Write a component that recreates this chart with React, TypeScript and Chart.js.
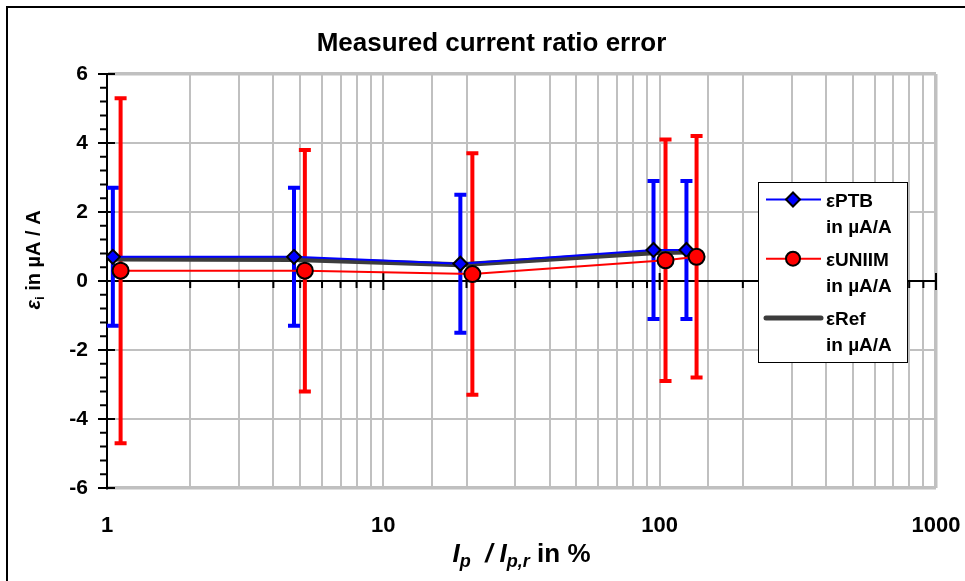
import React, { useEffect, useRef } from 'react';
import { Chart, registerables } from 'chart.js';

Chart.register(...registerables);

const FONT = "'Liberation Sans', Arial, Helvetica, sans-serif";

// ---------- data ----------
const chartTitle = 'Measured current ratio error';
const xTickValues = [1, 10, 100, 1000];
const xMin = 1;
const xMax = 1000;
const yMin = -6;
const yMax = 6;
const yStep = 2;
const yMinorStep = 0.4;

const ptbX = [1.05, 4.75, 19, 95, 125];
const ptbY = [0.7, 0.7, 0.5, 0.9, 0.9];
const ptbU = [2, 2, 2, 2, 2];

const uniimX = [1.12, 5.2, 21, 105, 136];
const uniimY = [0.3, 0.3, 0.2, 0.6, 0.7];
const uniimU = [5, 3.5, 3.5, 3.5, 3.5];

const refX = [1.05, 4.75, 19, 95, 125];
const refY = [0.64, 0.62, 0.47, 0.82, 0.84];

const legendNames = ['εPTB', 'εUNIIM', 'εRef'];
const legendUnit = 'in µA/A';

// ---------- styles ----------
const BLUE = '#0000ff';
const RED = '#ff0000';
const REF = '#3c3c3c';
const GRID = '#c0c0c0';

const toPts = (xs: number[], ys: number[]) => xs.map((x, i) => ({ x, y: ys[i] }));

function drawDiamond(ctx: CanvasRenderingContext2D, x: number, y: number, r: number) {
  ctx.beginPath();
  ctx.moveTo(x - r, y);
  ctx.lineTo(x, y - r);
  ctx.lineTo(x + r, y);
  ctx.lineTo(x, y + r);
  ctx.closePath();
  ctx.fillStyle = BLUE;
  ctx.fill();
  ctx.lineWidth = 2;
  ctx.strokeStyle = '#000';
  ctx.stroke();
}

function drawCircle(ctx: CanvasRenderingContext2D, x: number, y: number, r: number) {
  ctx.beginPath();
  ctx.arc(x, y, r, 0, Math.PI * 2);
  ctx.fillStyle = RED;
  ctx.fill();
  ctx.lineWidth = 2;
  ctx.strokeStyle = '#000';
  ctx.stroke();
}

type Piece = { t: string; font: string; dy?: number };

function drawPieces(ctx: CanvasRenderingContext2D, pieces: Piece[], cx: number, baseline: number) {
  let total = 0;
  for (const p of pieces) {
    ctx.font = p.font;
    total += ctx.measureText(p.t).width;
  }
  let x = cx - total / 2;
  ctx.textBaseline = 'alphabetic';
  ctx.textAlign = 'left';
  for (const p of pieces) {
    ctx.font = p.font;
    ctx.fillText(p.t, x, baseline + (p.dy || 0));
    x += ctx.measureText(p.t).width;
  }
}

const extrasPlugin = {
  id: 'extras',
  beforeDatasetsDraw(chart: any) {
    const { ctx, chartArea } = chart;
    const xs = chart.scales.x;
    const ys = chart.scales.y;
    const y0 = ys.getPixelForValue(0);
    ctx.save();
    // zero axis line with log ticks
    ctx.strokeStyle = '#000';
    ctx.lineWidth = 2;
    ctx.beginPath();
    ctx.moveTo(chartArea.left, y0);
    ctx.lineTo(chartArea.right, y0);
    for (let e = 0; e <= 3; e++) {
      for (let m = 1; m <= 9; m++) {
        const v = m * Math.pow(10, e);
        if (v > xMax) break;
        const px = xs.getPixelForValue(v);
        if (m === 1) {
          ctx.moveTo(px, y0 - 8);
          ctx.lineTo(px, y0 + 9);
        } else {
          ctx.moveTo(px, y0);
          ctx.lineTo(px, y0 + 7);
        }
      }
    }
    // y axis ticks
    const nMinor = Math.round((yMax - yMin) / yMinorStep);
    const perMajor = Math.round(yStep / yMinorStep);
    for (let i = 0; i <= nMinor; i++) {
      const v = yMin + i * yMinorStep;
      const py = ys.getPixelForValue(v);
      if (i % perMajor === 0) {
        ctx.moveTo(chartArea.left - 9, py);
        ctx.lineTo(chartArea.left + 8, py);
      } else {
        ctx.moveTo(chartArea.left - 7, py);
        ctx.lineTo(chartArea.left, py);
      }
    }
    ctx.stroke();

    // error bars
    const bars = (xv: number[], yv: number[], uv: number[], color: string) => {
      ctx.strokeStyle = color;
      ctx.lineWidth = 4;
      ctx.lineCap = 'butt';
      ctx.beginPath();
      xv.forEach((xx, i) => {
        const px = xs.getPixelForValue(xx);
        const top = ys.getPixelForValue(yv[i] + uv[i]);
        const bot = ys.getPixelForValue(yv[i] - uv[i]);
        ctx.moveTo(px, top);
        ctx.lineTo(px, bot);
        ctx.moveTo(px - 6, top);
        ctx.lineTo(px + 6, top);
        ctx.moveTo(px - 6, bot);
        ctx.lineTo(px + 6, bot);
      });
      ctx.stroke();
    };
    bars(ptbX, ptbY, ptbU, BLUE);
    bars(uniimX, uniimY, uniimU, RED);
    ctx.restore();
  },
  afterDraw(chart: any) {
    const { ctx, chartArea } = chart;
    ctx.save();
    // outer frame
    ctx.strokeStyle = '#000';
    ctx.lineWidth = 2;
    ctx.beginPath();
    ctx.moveTo(7, chart.height + 5);
    ctx.lineTo(7, 7);
    ctx.lineTo(chart.width + 5, 7);
    ctx.stroke();

    // legend
    const L = chartArea.right - 178;
    const T = chartArea.top + 108;
    const W = 149;
    const H = 180;
    ctx.fillStyle = '#fff';
    ctx.fillRect(L, T, W, H);
    ctx.strokeStyle = '#000';
    ctx.lineWidth = 1;
    ctx.strokeRect(L + 0.5, T + 0.5, W, H);
    ctx.textAlign = 'left';
    ctx.textBaseline = 'alphabetic';
    for (let k = 0; k < 3; k++) {
      const sy = T + 17.5 + k * 59.2;
      ctx.beginPath();
      if (k === 2) {
        ctx.strokeStyle = REF;
        ctx.lineWidth = 5;
        ctx.lineCap = 'round';
      } else {
        ctx.strokeStyle = k === 0 ? BLUE : RED;
        ctx.lineWidth = 2;
        ctx.lineCap = 'butt';
      }
      ctx.moveTo(L + 8, sy);
      ctx.lineTo(L + 63, sy);
      ctx.stroke();
      if (k === 0) drawDiamond(ctx, L + 35, sy, 7);
      if (k === 1) drawCircle(ctx, L + 35, sy, 7);
      ctx.fillStyle = '#000';
      ctx.font = `bold 19px ${FONT}`;
      ctx.fillText(legendNames[k], L + 68, sy + 7.5);
      ctx.fillText(legendUnit, L + 68, sy + 33);
    }

    // x axis title
    ctx.fillStyle = '#000';
    const cx = (chartArea.left + chartArea.right) / 2;
    drawPieces(
      ctx,
      [
        { t: 'I', font: `italic bold 26px ${FONT}` },
        { t: 'p', font: `italic bold 18px ${FONT}`, dy: 5 },
        { t: '  / ', font: `italic bold 26px ${FONT}` },
        { t: 'I', font: `italic bold 26px ${FONT}` },
        { t: 'p,r', font: `italic bold 18px ${FONT}`, dy: 5 },
        { t: ' in %', font: `bold 26px ${FONT}` },
      ],
      cx,
      561.5
    );

    // y axis title
    ctx.save();
    ctx.translate(40, 260);
    ctx.rotate(-Math.PI / 2);
    drawPieces(
      ctx,
      [
        { t: 'ε', font: `italic bold 20px ${FONT}` },
        { t: 'i', font: `bold 13px ${FONT}`, dy: 4 },
        { t: ' in µA / A', font: `bold 20px ${FONT}` },
      ],
      0,
      0
    );
    ctx.restore();
    ctx.restore();
  },
};

export default function App() {
  const canvasRef = useRef<HTMLCanvasElement>(null);
  useEffect(() => {
    const canvas = canvasRef.current;
    if (!canvas) return;
    const chart = new Chart(canvas, {
      type: 'line',
      data: {
        datasets: [
          {
            label: 'εUNIIM in µA/A',
            data: toPts(uniimX, uniimY),
            borderColor: RED,
            backgroundColor: RED,
            borderWidth: 2,
            pointStyle: 'circle',
            pointRadius: 8,
            pointBorderColor: '#000',
            pointBackgroundColor: RED,
            pointBorderWidth: 2,
            tension: 0,
          },
          {
            label: 'εPTB in µA/A',
            data: toPts(ptbX, ptbY),
            borderColor: BLUE,
            backgroundColor: BLUE,
            borderWidth: 2,
            pointStyle: 'rectRot',
            pointRadius: 7,
            pointBorderColor: '#000',
            pointBackgroundColor: BLUE,
            pointBorderWidth: 2,
            tension: 0,
          },
          {
            label: 'εRef in µA/A',
            data: toPts(refX, refY),
            borderColor: REF,
            backgroundColor: REF,
            borderWidth: 5,
            pointRadius: 0,
            tension: 0,
          },
        ],
      },
      options: {
        responsive: false,
        maintainAspectRatio: false,
        animation: false,
        devicePixelRatio: 1,
        layout: { padding: { left: 18, right: 0, top: 0, bottom: 0 } },
        plugins: {
          legend: { display: false },
          tooltip: { enabled: false },
          title: {
            display: true,
            text: chartTitle,
            color: '#000',
            font: { family: FONT, size: 26, weight: 'bold' },
            padding: { top: 28, bottom: 14.8 },
          },
        },
        scales: {
          x: {
            type: 'logarithmic',
            min: xMin,
            max: xMax,
            afterFit: (s: any) => {
              s.height = 93;
              s.paddingLeft = 0;
              s.paddingRight = 0;
            },
            border: { display: false },
            grid: {
              drawTicks: false,
              color: (c: any) => (c.tick && c.tick.value === xMin ? 'rgba(0,0,0,0)' : GRID),
              lineWidth: (c: any) => (c.tick && c.tick.value === xMax ? 3.5 : 2),
            },
            ticks: {
              autoSkip: false,
              maxRotation: 0,
              minRotation: 0,
              padding: 25,
              color: '#000',
              font: { family: FONT, size: 22, weight: 'bold' },
              callback: (v: any) => (xTickValues.includes(Number(v)) ? String(v) : ''),
            },
          },
          y: {
            type: 'linear',
            position: 'left',
            min: yMin,
            max: yMax,
            afterFit: (s: any) => {
              s.width = 89;
            },
            border: { display: true, color: '#000', width: 2 },
            grid: {
              drawTicks: false,
              color: GRID,
              lineWidth: (c: any) =>
                c.tick && (c.tick.value === yMin || c.tick.value === yMax) ? 3.5 : 2,
            },
            ticks: {
              stepSize: yStep,
              padding: 19,
              color: '#000',
              font: { family: FONT, size: 21, weight: 'bold' },
            },
          },
          yR: {
            type: 'linear',
            position: 'right',
            display: true,
            afterFit: (s: any) => {
              s.width = 29;
            },
            border: { display: false },
            grid: { display: false, drawTicks: false },
            ticks: { display: false },
          },
        },
      },
      plugins: [extrasPlugin],
    } as any);
    return () => chart.destroy();
  }, []);

  return (
    <div style={{ position: 'absolute', left: 0, top: 0, width: 965, height: 581, background: '#fff' }}>
      <canvas ref={canvasRef} width={965} height={581} style={{ display: 'block', width: 965, height: 581 }} />
    </div>
  );
}
